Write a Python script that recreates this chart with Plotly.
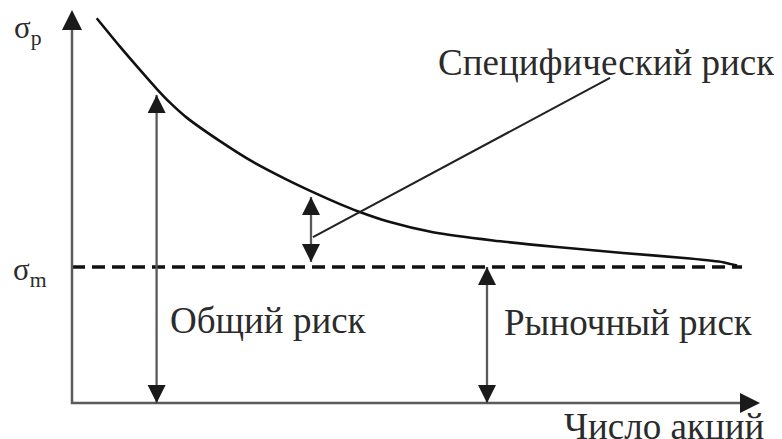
import plotly.graph_objects as go

# portfolio risk curve: number of stocks vs sigma_p (sigma_m = 1)
n_stocks = [1.235, 2.4, 3.4, 4.235, 4.9, 5.735, 7.4, 9.05, 10.735, 12.05, 13.4, 14.25,
            15.9, 18.05, 21.05, 24.25, 27.55, 30.9, 32.55, 33.25]
sigma_p = [2.829, 2.620, 2.449, 2.31, 2.208, 2.098, 1.925, 1.772, 1.642, 1.55, 1.462, 1.412,
           1.33, 1.255, 1.195, 1.147, 1.103, 1.062, 1.035, 1.01]
sigma_m = 1.0
dash_end = 33.5

# axis extents
x_max = 34.4
y_max = 2.89

# double arrows: x, bottom, top
total_arrow = [4.23, 0.0, 2.265]
specific_arrow = [11.95, 1.037, 1.515]
market_arrow = [20.75, 0.0, 1.0]
pointer_x = [12.05, 26.9]
pointer_y = [1.22, 2.39]

FONT = "Liberation Serif"
TXT = "#2b2b2b"
SHAFT = "#5a5a5a"
HEAD = "#1a1a1a"

fig = go.Figure()

fig.add_trace(go.Scatter(x=n_stocks, y=sigma_p, mode="lines",
                         line=dict(color="#111111", width=2.6, shape="spline", smoothing=0.6), hoverinfo="skip"))
fig.add_trace(go.Scatter(x=[0, dash_end], y=[sigma_m, sigma_m], mode="lines",
                         line=dict(color="#111111", width=3.5, dash="13px,7px"), hoverinfo="skip"))
fig.add_trace(go.Scatter(x=pointer_x, y=pointer_y, mode="lines",
                         line=dict(color="#222222", width=2), hoverinfo="skip"))

# axes shafts
fig.add_trace(go.Scatter(x=[0, 0, x_max - 0.5], y=[y_max - 0.08, 0, 0], mode="lines",
                         line=dict(color=SHAFT, width=2.5), hoverinfo="skip"))


def head(x, y, ax, ay, scale=1.8):
    fig.add_annotation(x=x, y=y, ax=ax, ay=ay, xref="x", yref="y",
                       text="", showarrow=True, arrowhead=2, arrowwidth=2,
                       arrowsize=scale, arrowcolor=HEAD, standoff=0)


def double_arrow(a):
    x, y0, y1 = a
    fig.add_trace(go.Scatter(x=[x, x], y=[y0, y1], mode="lines",
                             line=dict(color=SHAFT, width=2.3), hoverinfo="skip"))
    head(x, y1, 0, 12)
    head(x, y0, 0, -12)


head(0, y_max, 0, 14, scale=2.0)
head(x_max, 0, -14, 0, scale=2.0)

double_arrow(total_arrow)
double_arrow(specific_arrow)
double_arrow(market_arrow)

labels = [
    ("Специфический риск", 26.7, 2.50),
    ("Общий риск", 9.8, 0.61),
    ("Рыночный риск", 27.8, 0.59),
    ("Число акций", 29.6, -0.175),
]
for txt, x, y in labels:
    fig.add_annotation(x=x, y=y, text=txt, showarrow=False,
                       font=dict(family=FONT, size=37, color=TXT))

fig.add_annotation(x=-2.2, y=2.74, text="σ<sub>p</sub>", showarrow=False,
                   font=dict(family=FONT, size=31, color=TXT))
fig.add_annotation(x=-2.1, y=0.96, text="σ<sub>m</sub>", showarrow=False,
                   font=dict(family=FONT, size=31, color=TXT))

fig.update_layout(
    width=774, height=431,
    margin=dict(l=0, r=0, t=0, b=0),
    paper_bgcolor="white", plot_bgcolor="white",
    showlegend=False,
    xaxis=dict(range=[-3.2, 35.5], visible=False),
    yaxis=dict(range=[-0.2647, 2.904], visible=False),
)

fig.write_html("out.html")
